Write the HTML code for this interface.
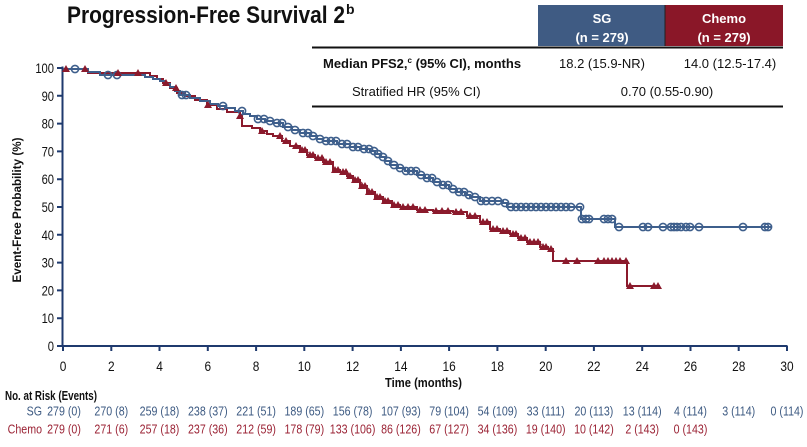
<!DOCTYPE html>
<html><head><meta charset="utf-8"><style>
html,body{margin:0;padding:0;background:#fff;}
svg{display:block;font-family:"Liberation Sans Narrow","Liberation Sans",Arial,sans-serif;}
</style></head><body>
<svg width="807" height="447" viewBox="0 0 807 447" xmlns="http://www.w3.org/2000/svg">
<defs>
<circle id="c" cx="0" cy="0" r="3.6" fill="none" stroke="#3e5f8c" stroke-width="1.6"/>
<path id="t" d="M-4,3 L4,3 L0,-4 Z" fill="#8b1a2c"/>
</defs>
<rect width="807" height="447" fill="#fff"/>

<!-- Title -->
<text x="67" y="23" font-family="Liberation Sans,sans-serif" font-weight="bold" font-size="24" fill="#111" textLength="278" lengthAdjust="spacingAndGlyphs">Progression-Free Survival 2</text>
<text x="346" y="14" font-family="Liberation Sans,sans-serif" font-weight="bold" font-size="14" fill="#111">b</text>

<!-- Table -->
<rect x="538" y="5" width="127" height="41" fill="#3f5b83"/>
<rect x="665" y="5" width="118" height="41" fill="#8a1728"/>
<line x1="665" y1="5" x2="665" y2="46" stroke="#222" stroke-width="1"/>
<g font-family="Liberation Sans,sans-serif" font-weight="bold" font-size="13" fill="#fff" text-anchor="middle">
<text x="602" y="23">SG</text><text x="602" y="42">(n = 279)</text>
<text x="724" y="23">Chemo</text><text x="724" y="42">(n = 279)</text>
</g>
<line x1="312" y1="47.5" x2="783" y2="47.5" stroke="#111" stroke-width="2"/>
<line x1="312" y1="106.5" x2="783" y2="106.5" stroke="#111" stroke-width="2"/>
<g font-family="Liberation Sans,sans-serif" font-size="13" fill="#111">
<text x="323" y="68" font-weight="bold">Median PFS2,<tspan font-size="8" dy="-5">c</tspan><tspan dy="5"> (95% CI), months</tspan></text>
<text x="602" y="68" text-anchor="middle">18.2 (15.9-NR)</text>
<text x="730" y="68" text-anchor="middle">14.0 (12.5-17.4)</text>
<text x="352" y="96">Stratified HR (95% CI)</text>
<text x="667" y="96" text-anchor="middle">0.70 (0.55-0.90)</text>
</g>

<!-- Axes -->
<g stroke="#1f3a6e" stroke-width="2" fill="none">
<line x1="62.5" y1="66.5" x2="62.5" y2="346"/>
<line x1="61.5" y1="346" x2="787.5" y2="346"/>
<path d="M57,68H62 M57,95.8H62 M57,123.6H62 M57,151.4H62 M57,179.2H62 M57,207H62 M57,234.8H62 M57,262.6H62 M57,290.4H62 M57,318.2H62 M57,346H62"/>
<path d="M63,346V351 M111.3,346V351 M159.5,346V351 M207.8,346V351 M256.1,346V351 M304.3,346V351 M352.6,346V351 M400.9,346V351 M449.1,346V351 M497.4,346V351 M545.7,346V351 M593.9,346V351 M642.2,346V351 M690.5,346V351 M738.7,346V351 M787,346V351"/>
</g>

<!-- Y tick labels -->
<g font-size="14" fill="#111" text-anchor="end">
<text transform="translate(54,73) scale(0.8,1)">100</text>
<text transform="translate(54,100.8) scale(0.8,1)">90</text>
<text transform="translate(54,128.6) scale(0.8,1)">80</text>
<text transform="translate(54,156.4) scale(0.8,1)">70</text>
<text transform="translate(54,184.2) scale(0.8,1)">60</text>
<text transform="translate(54,212) scale(0.8,1)">50</text>
<text transform="translate(54,239.8) scale(0.8,1)">40</text>
<text transform="translate(54,267.6) scale(0.8,1)">30</text>
<text transform="translate(54,295.4) scale(0.8,1)">20</text>
<text transform="translate(54,323.2) scale(0.8,1)">10</text>
<text transform="translate(54,351) scale(0.8,1)">0</text>
</g>
<text transform="translate(21,210) rotate(-90)" text-anchor="middle" font-family="Liberation Sans,sans-serif" font-weight="bold" font-size="12" fill="#111" textLength="145" lengthAdjust="spacingAndGlyphs">Event-Free Probability (%)</text>

<!-- X tick labels -->
<g font-size="14" fill="#111" text-anchor="middle">
<text transform="translate(63,371) scale(0.85,1)">0</text>
<text transform="translate(111.3,371) scale(0.85,1)">2</text>
<text transform="translate(159.5,371) scale(0.85,1)">4</text>
<text transform="translate(207.8,371) scale(0.85,1)">6</text>
<text transform="translate(256.1,371) scale(0.85,1)">8</text>
<text transform="translate(304.3,371) scale(0.85,1)">10</text>
<text transform="translate(352.6,371) scale(0.85,1)">12</text>
<text transform="translate(400.9,371) scale(0.85,1)">14</text>
<text transform="translate(449.1,371) scale(0.85,1)">16</text>
<text transform="translate(497.4,371) scale(0.85,1)">18</text>
<text transform="translate(545.7,371) scale(0.85,1)">20</text>
<text transform="translate(593.9,371) scale(0.85,1)">22</text>
<text transform="translate(642.2,371) scale(0.85,1)">24</text>
<text transform="translate(690.5,371) scale(0.85,1)">26</text>
<text transform="translate(738.7,371) scale(0.85,1)">28</text>
<text transform="translate(787,371) scale(0.85,1)">30</text>
</g>
<text x="385" y="387" font-family="Liberation Sans,sans-serif" font-weight="bold" font-size="13" fill="#111" textLength="77" lengthAdjust="spacingAndGlyphs">Time (months)</text>

<!-- Curves -->
<path d="M63,69 H88 V73 H150 V76 H157 V79 H163 V83 H170 V88 H177 V93 H185 V96 H195 V100 H207 V105 H217 V109 H227 V112 H240 V116 H242 V126 H252 V128 H260 V131 H267 V134 H273 V136 H282 V141 H290 V146 H300 V150 H307 V155 H315 V158 H323 V162 H333 V170 H340 V172 H347 V176 H353 V180 H360 V186 H367 V192 H375 V197 H383 V201 H392 V205 H400 V207 H417 V210 H433 V211 H453 V212 H467 V216 H480 V222 H490 V229 H500 V231 H510 V234 H518 V238 H527 V242 H540 V247 H548 V249 H553 V261 H627 V286 H660" fill="none" stroke="#8b1a2c" stroke-width="2"/>
<path d="M63,69 H88 V72 H100 V75 H145 V77 H153 V79 H160 V81 H165 V84 H170 V87 H175 V91 H180 V95 H190 V98 H200 V101 H210 V104 H218 V106 H225 V108 H235 V111 H243 V114 H250 V116 H257 V119 H265 V121 H273 V123 H283 V127 H292 V130 H300 V133 H310 V136 H317 V139 H323 V141 H337 V144 H350 V147 H360 V149 H370 V151 H375 V154 H380 V157 H385 V161 H390 V165 H398 V168 H405 V171 H417 V175 H425 V178 H433 V182 H441 V185 H449 V189 H457 V192 H465 V195 H470 V197 H480 V201 H503 V203 H507 V207 H581 V219 H615 V227 H771" fill="none" stroke="#3e5f8c" stroke-width="2"/>

<!-- Blue censor circles -->
<g>
<use href="#c" x="75" y="69"/><use href="#c" x="108" y="75"/><use href="#c" x="117" y="75"/>
<use href="#c" x="182" y="95"/><use href="#c" x="186" y="95"/><use href="#c" x="223" y="106"/>
<use href="#c" x="242" y="111"/><use href="#c" x="258" y="119"/><use href="#c" x="264" y="119"/>
<use href="#c" x="270" y="121"/><use href="#c" x="277" y="123"/><use href="#c" x="282" y="123"/>
<use href="#c" x="288" y="127"/><use href="#c" x="295" y="130"/><use href="#c" x="303" y="133"/>
<use href="#c" x="308" y="133"/><use href="#c" x="313" y="136"/><use href="#c" x="320" y="139"/>
<use href="#c" x="326" y="141"/><use href="#c" x="331" y="141"/><use href="#c" x="336" y="141"/>
<use href="#c" x="342" y="144"/><use href="#c" x="347" y="144"/><use href="#c" x="353" y="147"/>
<use href="#c" x="358" y="147"/><use href="#c" x="364" y="149"/><use href="#c" x="369" y="149"/>
<use href="#c" x="374" y="151"/><use href="#c" x="378" y="154"/><use href="#c" x="383" y="157"/>
<use href="#c" x="388" y="161"/><use href="#c" x="394" y="165"/><use href="#c" x="400" y="168"/>
<use href="#c" x="406" y="171"/><use href="#c" x="411" y="171"/><use href="#c" x="416" y="171"/>
<use href="#c" x="421" y="175"/><use href="#c" x="427" y="178"/><use href="#c" x="432" y="178"/>
<use href="#c" x="437" y="182"/><use href="#c" x="443" y="185"/><use href="#c" x="448" y="185"/>
<use href="#c" x="453" y="189"/><use href="#c" x="459" y="192"/><use href="#c" x="464" y="192"/>
<use href="#c" x="469" y="195"/><use href="#c" x="475" y="197"/><use href="#c" x="481" y="201"/>
<use href="#c" x="486" y="201"/><use href="#c" x="492" y="201"/><use href="#c" x="498" y="201"/>
<use href="#c" x="505" y="203"/><use href="#c" x="511" y="207"/><use href="#c" x="516" y="207"/>
<use href="#c" x="521" y="207"/><use href="#c" x="526" y="207"/><use href="#c" x="531" y="207"/>
<use href="#c" x="536" y="207"/><use href="#c" x="541" y="207"/><use href="#c" x="546" y="207"/>
<use href="#c" x="551" y="207"/><use href="#c" x="556" y="207"/><use href="#c" x="561" y="207"/>
<use href="#c" x="566" y="207"/><use href="#c" x="571" y="207"/><use href="#c" x="580" y="207"/>
<use href="#c" x="582" y="219"/><use href="#c" x="586" y="219"/><use href="#c" x="589" y="219"/>
<use href="#c" x="604" y="219"/><use href="#c" x="608" y="219"/><use href="#c" x="612" y="219"/>
<use href="#c" x="619" y="227"/><use href="#c" x="643" y="227"/><use href="#c" x="648" y="227"/>
<use href="#c" x="663" y="227"/><use href="#c" x="671" y="227"/><use href="#c" x="674" y="227"/>
<use href="#c" x="677" y="227"/><use href="#c" x="681" y="227"/><use href="#c" x="686" y="227"/>
<use href="#c" x="690" y="227"/><use href="#c" x="699" y="227"/><use href="#c" x="743" y="227"/>
<use href="#c" x="765" y="227"/><use href="#c" x="768" y="227"/>
</g>

<!-- Red censor triangles -->
<g>
<use href="#t" x="66" y="69"/><use href="#t" x="85" y="69"/><use href="#t" x="118" y="73"/>
<use href="#t" x="138" y="73"/><use href="#t" x="166" y="83"/><use href="#t" x="176" y="88"/>
<use href="#t" x="208" y="105"/><use href="#t" x="240" y="116"/><use href="#t" x="262" y="131"/>
<use href="#t" x="280" y="136"/><use href="#t" x="286" y="141"/><use href="#t" x="296" y="146"/>
<use href="#t" x="302" y="150"/><use href="#t" x="305" y="150"/><use href="#t" x="310" y="155"/>
<use href="#t" x="313" y="155"/><use href="#t" x="318" y="158"/><use href="#t" x="322" y="158"/>
<use href="#t" x="326" y="162"/><use href="#t" x="330" y="162"/><use href="#t" x="335" y="170"/>
<use href="#t" x="338" y="170"/><use href="#t" x="343" y="172"/><use href="#t" x="346" y="172"/>
<use href="#t" x="350" y="176"/><use href="#t" x="355" y="180"/><use href="#t" x="358" y="180"/>
<use href="#t" x="362" y="186"/><use href="#t" x="365" y="186"/><use href="#t" x="369" y="192"/>
<use href="#t" x="372" y="192"/><use href="#t" x="377" y="197"/><use href="#t" x="380" y="197"/>
<use href="#t" x="385" y="201"/><use href="#t" x="388" y="201"/><use href="#t" x="394" y="205"/>
<use href="#t" x="398" y="205"/><use href="#t" x="403" y="207"/><use href="#t" x="408" y="207"/>
<use href="#t" x="413" y="207"/><use href="#t" x="420" y="210"/><use href="#t" x="425" y="210"/>
<use href="#t" x="436" y="211"/><use href="#t" x="442" y="211"/><use href="#t" x="448" y="211"/>
<use href="#t" x="456" y="212"/><use href="#t" x="461" y="212"/><use href="#t" x="470" y="216"/>
<use href="#t" x="475" y="216"/><use href="#t" x="483" y="222"/><use href="#t" x="487" y="222"/>
<use href="#t" x="493" y="229"/><use href="#t" x="497" y="229"/><use href="#t" x="503" y="231"/>
<use href="#t" x="507" y="231"/><use href="#t" x="513" y="234"/><use href="#t" x="516" y="234"/>
<use href="#t" x="521" y="238"/><use href="#t" x="525" y="238"/><use href="#t" x="530" y="242"/>
<use href="#t" x="534" y="242"/><use href="#t" x="538" y="242"/><use href="#t" x="543" y="247"/>
<use href="#t" x="546" y="247"/><use href="#t" x="551" y="249"/><use href="#t" x="566" y="261"/>
<use href="#t" x="577" y="261"/><use href="#t" x="598" y="261"/><use href="#t" x="604" y="261"/>
<use href="#t" x="608" y="261"/><use href="#t" x="612" y="261"/><use href="#t" x="616" y="261"/>
<use href="#t" x="620" y="261"/><use href="#t" x="626" y="261"/><use href="#t" x="630" y="286"/>
<use href="#t" x="654" y="286"/><use href="#t" x="658" y="286"/>
</g>

<!-- Number at risk -->
<text x="5" y="400" font-family="Liberation Sans,sans-serif" font-weight="bold" font-size="12.5" fill="#111" textLength="92" lengthAdjust="spacingAndGlyphs">No. at Risk (Events)</text>
<g font-size="13" fill="#3d5a82" text-anchor="middle">
<text transform="translate(42,415.5) scale(0.82,1)" text-anchor="end">SG</text>
<text transform="translate(64,415.5) scale(0.82,1)">279 (0)</text>
<text transform="translate(111.3,415.5) scale(0.82,1)">270 (8)</text>
<text transform="translate(159.5,415.5) scale(0.82,1)">259 (18)</text>
<text transform="translate(207.8,415.5) scale(0.82,1)">238 (37)</text>
<text transform="translate(256.1,415.5) scale(0.82,1)">221 (51)</text>
<text transform="translate(304.3,415.5) scale(0.82,1)">189 (65)</text>
<text transform="translate(352.6,415.5) scale(0.82,1)">156 (78)</text>
<text transform="translate(400.9,415.5) scale(0.82,1)">107 (93)</text>
<text transform="translate(449.1,415.5) scale(0.82,1)">79 (104)</text>
<text transform="translate(497.4,415.5) scale(0.82,1)">54 (109)</text>
<text transform="translate(545.7,415.5) scale(0.82,1)">33 (111)</text>
<text transform="translate(593.9,415.5) scale(0.82,1)">20 (113)</text>
<text transform="translate(642.2,415.5) scale(0.82,1)">13 (114)</text>
<text transform="translate(690.5,415.5) scale(0.82,1)">4 (114)</text>
<text transform="translate(738.7,415.5) scale(0.82,1)">3 (114)</text>
<text transform="translate(787,415.5) scale(0.82,1)">0 (114)</text>
</g>
<g font-size="13" fill="#9b2335" text-anchor="middle">
<text transform="translate(42,433.5) scale(0.82,1)" text-anchor="end">Chemo</text>
<text transform="translate(64,433.5) scale(0.82,1)">279 (0)</text>
<text transform="translate(111.3,433.5) scale(0.82,1)">271 (6)</text>
<text transform="translate(159.5,433.5) scale(0.82,1)">257 (18)</text>
<text transform="translate(207.8,433.5) scale(0.82,1)">237 (36)</text>
<text transform="translate(256.1,433.5) scale(0.82,1)">212 (59)</text>
<text transform="translate(304.3,433.5) scale(0.82,1)">178 (79)</text>
<text transform="translate(352.6,433.5) scale(0.82,1)">133 (106)</text>
<text transform="translate(400.9,433.5) scale(0.82,1)">86 (126)</text>
<text transform="translate(449.1,433.5) scale(0.82,1)">67 (127)</text>
<text transform="translate(497.4,433.5) scale(0.82,1)">34 (136)</text>
<text transform="translate(545.7,433.5) scale(0.82,1)">19 (140)</text>
<text transform="translate(593.9,433.5) scale(0.82,1)">10 (142)</text>
<text transform="translate(642.2,433.5) scale(0.82,1)">2 (143)</text>
<text transform="translate(690.5,433.5) scale(0.82,1)">0 (143)</text>
</g>
</svg>
</body></html>
